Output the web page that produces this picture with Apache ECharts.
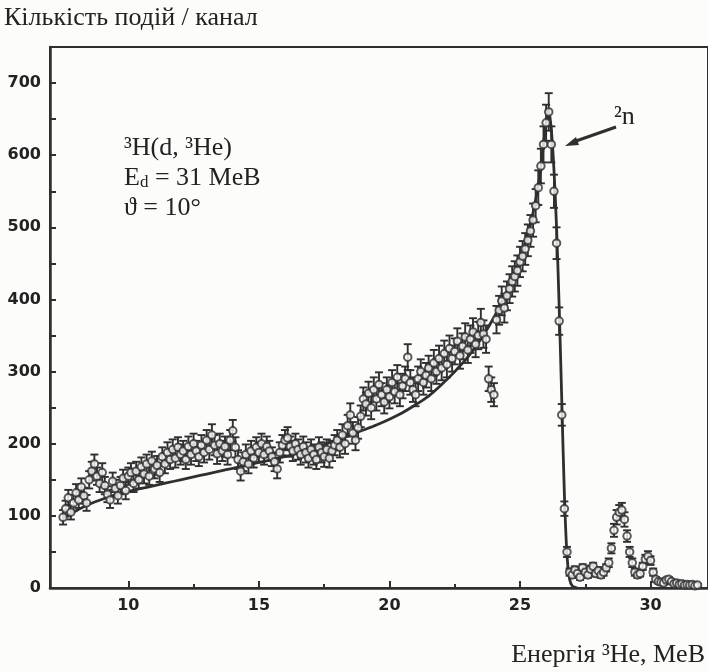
<!DOCTYPE html>
<html>
<head>
<meta charset="utf-8">
<script src="https://cdn.jsdelivr.net/npm/echarts@6/dist/echarts.min.js"></script>
<style>
html, body { margin: 0; padding: 0; background: #fcfcfb; }
#chart { width: 708px; height: 672px; }
</style>
</head>
<body>
<div id="chart"></div>
<script>
// measured spectrum, 3He energy (MeV) per channel
const energy = [
  7.5, 7.6, 7.7, 7.8, 7.9, 8.0, 8.1, 8.2, 8.3, 8.4,
  8.5, 8.6, 8.7, 8.8, 8.9, 9.0, 9.1, 9.2, 9.3, 9.4,
  9.5, 9.6, 9.7, 9.8, 9.9, 10.0, 10.1, 10.2, 10.3, 10.4,
  10.5, 10.6, 10.7, 10.8, 10.9, 11.0, 11.1, 11.2, 11.3, 11.4,
  11.5, 11.6, 11.7, 11.8, 11.9, 12.0, 12.1, 12.2, 12.3, 12.4,
  12.5, 12.6, 12.7, 12.8, 12.9, 13.0, 13.1, 13.2, 13.3, 13.4,
  13.5, 13.6, 13.7, 13.8, 13.9, 14.0, 14.1, 14.2, 14.3, 14.4,
  14.5, 14.6, 14.7, 14.8, 14.9, 15.0, 15.1, 15.2, 15.3, 15.4,
  15.5, 15.6, 15.7, 15.8, 15.9, 16.0, 16.1, 16.2, 16.3, 16.4,
  16.5, 16.6, 16.7, 16.8, 16.9, 17.0, 17.1, 17.2, 17.3, 17.4,
  17.5, 17.6, 17.7, 17.8, 17.9, 18.0, 18.1, 18.2, 18.3, 18.4,
  18.5, 18.6, 18.7, 18.8, 18.9, 19.0, 19.1, 19.2, 19.3, 19.4,
  19.5, 19.6, 19.7, 19.8, 19.9, 20.0, 20.1, 20.2, 20.3, 20.4,
  20.5, 20.6, 20.7, 20.8, 20.9, 21.0, 21.1, 21.2, 21.3, 21.4,
  21.5, 21.6, 21.7, 21.8, 21.9, 22.0, 22.1, 22.2, 22.3, 22.4,
  22.5, 22.6, 22.7, 22.8, 22.9, 23.0, 23.1, 23.2, 23.3, 23.4,
  23.5, 23.6, 23.7, 23.8, 23.9, 24.0, 24.1, 24.2, 24.3, 24.4,
  24.5, 24.6, 24.7, 24.8, 24.9, 25.0, 25.1, 25.2, 25.3, 25.4,
  25.5, 25.6, 25.7, 25.8, 25.9, 26.0, 26.1, 26.2, 26.3, 26.4,
  26.5, 26.6, 26.7, 26.8, 26.9, 27.0, 27.1, 27.2, 27.3, 27.4,
  27.5, 27.6, 27.7, 27.8, 27.9, 28.0, 28.1, 28.2, 28.3, 28.4,
  28.5, 28.6, 28.7, 28.8, 28.9, 29.0, 29.1, 29.2, 29.3, 29.4,
  29.5, 29.6, 29.7, 29.8, 29.9, 30.0, 30.1, 30.2, 30.3, 30.4,
  30.5, 30.6, 30.7, 30.8, 30.9, 31.0, 31.1, 31.2, 31.3, 31.4,
  31.5, 31.6, 31.7, 31.8
]
const counts = [
  98, 110, 125, 105, 118, 132, 122, 140, 128, 118,
  150, 162, 172, 155, 145, 160, 142, 130, 122, 148,
  138, 128, 142, 152, 135, 155, 160, 145, 162, 150,
  168, 158, 172, 155, 176, 165, 170, 160, 182, 172,
  188, 178, 192, 180, 195, 185, 190, 178, 196, 185,
  200, 190, 182, 198, 188, 205, 192, 212, 198, 186,
  200, 190, 196, 185, 205, 218, 195, 178, 162, 175,
  185, 172, 190, 180, 195, 188, 200, 185, 196, 190,
  182, 175, 165, 188, 198, 205, 208, 196, 190, 200,
  192, 185, 196, 188, 180, 192, 185, 178, 195, 188,
  182, 192, 180, 190, 198, 205, 195, 212, 200, 225,
  240, 215, 205, 222, 238, 262, 255, 270, 250, 275,
  262, 282, 268, 258, 275, 265, 285, 272, 292, 268,
  280, 290, 320, 285, 275, 268, 290, 300, 285, 295,
  305, 290, 312, 300, 318, 305, 325, 310, 332, 318,
  328, 342, 322, 335, 348, 330, 345, 355, 338, 350,
  368, 352, 345, 290, 275, 268, 372, 385, 398, 388,
  405, 415, 425, 432, 440, 452, 460, 470, 482, 495,
  510, 530, 555, 585, 615, 645, 660, 615, 550, 478,
  370, 240, 110, 50, 22, 18, 25, 20, 15, 28,
  22, 18, 26, 30, 20, 24, 18, 22, 28, 35,
  55, 80, 98, 105, 108, 95, 72, 50, 35, 22,
  18, 20, 30, 40, 44, 38, 22, 12, 9, 8,
  7, 11, 12, 9, 6, 7, 5, 6, 4, 5,
  4, 5, 3, 4
]
const errors = [
  10, 11, 11, 10, 11, 12, 11, 12, 11, 11,
  12, 13, 13, 12, 12, 13, 12, 11, 11, 12,
  12, 11, 12, 12, 12, 12, 13, 12, 13, 12,
  13, 13, 13, 12, 13, 13, 13, 13, 13, 13,
  14, 13, 14, 13, 14, 14, 14, 13, 14, 14,
  14, 14, 13, 14, 14, 14, 14, 15, 14, 14,
  14, 14, 14, 14, 14, 15, 14, 13, 13, 13,
  14, 13, 14, 13, 14, 14, 14, 14, 14, 14,
  13, 13, 13, 14, 14, 14, 15, 14, 14, 14,
  14, 14, 14, 14, 13, 14, 14, 13, 14, 14,
  14, 14, 13, 14, 14, 14, 14, 15, 14, 15,
  16, 15, 14, 15, 15, 16, 16, 16, 16, 17,
  16, 17, 16, 16, 17, 16, 17, 16, 17, 16,
  17, 17, 18, 17, 17, 16, 17, 17, 17, 17,
  17, 17, 18, 17, 18, 17, 18, 18, 18, 18,
  18, 18, 18, 18, 19, 18, 19, 19, 18, 19,
  19, 19, 19, 17, 17, 16, 19, 20, 20, 20,
  20, 20, 21, 21, 21, 21, 21, 22, 22, 22,
  23, 23, 24, 24, 25, 25, 26, 25, 23, 22,
  19, 15, 10, 7, 5, 4, 5, 4, 4, 5,
  5, 4, 5, 5, 4, 5, 4, 5, 5, 6,
  7, 9, 10, 10, 10, 10, 8, 7, 6, 5,
  4, 4, 5, 6, 7, 6, 5, 3, 3, 3,
  3, 3, 3, 3, 2, 3, 2, 2, 2, 2,
  2, 2, 2, 2
]

// calculated curve
const fitEnergy = [
  7.5, 8, 8.5, 9, 9.5, 10, 10.5, 11, 11.5, 12, 12.5, 13, 13.5, 14, 14.5, 15,
  15.5, 16, 16.5, 17, 17.5, 18, 18.5, 19, 19.5, 20, 20.5, 21, 21.5, 22, 22.5,
  23, 23.5, 24, 24.5, 25, 25.25, 25.5, 25.75, 26, 26.1, 26.2, 26.3, 26.4, 26.5,
  26.6, 26.7, 26.8, 26.9, 27.0, 27.2
]
const fitCounts = [
  97, 107, 116, 123, 129, 134, 138, 142, 146, 150, 154, 158, 162, 166, 170, 174,
  178, 182, 187, 193, 199, 205, 212, 219, 226, 234, 243, 254, 266, 282, 300,
  320, 345, 375, 412, 455, 485, 520, 570, 645, 662, 635, 580, 500, 390,
  260, 130, 45, 12, 3, 0
]

const xLabels = [10, 15, 20, 25, 30]
const xMajorTicks = [10, 15, 20, 25, 30]
const xMinorTicks = [12.5, 17.5, 22.5, 27.5]
const yLabels = [0, 100, 200, 300, 400, 500, 600, 700]
const yTicks = [50, 100, 150, 200, 250, 300, 350, 400, 450, 500, 550, 600, 650, 700]

const ink = '#2f2f2f'
const serif = '"Liberation Serif", "DejaVu Serif", serif'

var chart = echarts.init(document.getElementById('chart'))

var points = energy.map((e, i) => [e, counts[i]])
var bars = energy.map((e, i) => [e, Math.max(0, counts[i] - errors[i]), counts[i] + errors[i]])
var fit = fitEnergy.map((e, i) => [e, fitCounts[i]])

function renderErrorBar(params, api) {
  var lo = api.coord([api.value(0), api.value(1)])
  var hi = api.coord([api.value(0), api.value(2)])
  var w = 4
  var st = { stroke: ink, lineWidth: 1.9 }
  return {
    type: 'group',
    children: [
      { type: 'line', shape: { x1: lo[0], y1: lo[1], x2: hi[0], y2: hi[1] }, style: st },
      { type: 'line', shape: { x1: lo[0] - w, y1: lo[1], x2: lo[0] + w, y2: lo[1] }, style: st },
      { type: 'line', shape: { x1: hi[0] - w, y1: hi[1], x2: hi[0] + w, y2: hi[1] }, style: st }
    ]
  }
}

var labelFont = {
  fontFamily: 'DejaVu Sans',
  fontWeight: 'bold',
  fontSize: 16,
  color: '#222'
}

var option = {
  backgroundColor: '#fcfcfb',
  animation: false,
  grid: {
    left: 50, top: 47, right: -5, bottom: 84,
    show: true, borderColor: ink, borderWidth: 2
  },
  xAxis: [
    {
      type: 'value', min: 7, max: 32.2,
      axisLine: { lineStyle: { color: ink, width: 2.5 } },
      axisTick: { inside: true, length: 7, customValues: xMajorTicks, lineStyle: { color: ink, width: 2 } },
      axisLabel: Object.assign({ margin: 10, customValues: xLabels }, labelFont),
      splitLine: { show: false }
    },
    {
      type: 'value', min: 7, max: 32.2, position: 'bottom',
      axisLine: { show: false },
      axisTick: { inside: true, length: 4, customValues: xMinorTicks, lineStyle: { color: ink, width: 2 } },
      axisLabel: { show: false },
      splitLine: { show: false }
    }
  ],
  yAxis: {
    type: 'value', min: 0, max: 750,
    axisLine: { show: true, lineStyle: { color: ink, width: 2.5 } },
    axisTick: { show: true, inside: true, length: 6, customValues: yTicks, lineStyle: { color: ink, width: 2 } },
    axisLabel: Object.assign({ margin: 9, customValues: yLabels }, labelFont),
    splitLine: { show: false }
  },
  series: [
    {
      type: 'line',
      data: fit,
      smooth: 0.3,
      showSymbol: false,
      lineStyle: { color: ink, width: 2.8 },
      z: 3
    },
    {
      type: 'custom',
      data: bars,
      renderItem: renderErrorBar,
      encode: { x: 0, y: [1, 2] },
      clip: true,
      z: 2
    },
    {
      type: 'scatter',
      data: points,
      symbol: 'emptyCircle',
      symbolSize: 7.5,
      itemStyle: { color: ink, borderColor: ink, borderWidth: 2.2 },
      z: 4
    }
  ],
  graphic: [
    {
      type: 'text', left: 4, top: 5,
      style: { text: 'Кількість подій / канал', font: '26px ' + serif, fill: '#222' }
    },
    {
      type: 'text', right: 3, bottom: 4,
      style: { text: 'Енергія ³He, MeB', font: '26px ' + serif, fill: '#222' }
    },
    {
      type: 'text', left: 124, top: 135,
      style: { text: '³H(d, ³He)', font: '26px ' + serif, fill: '#222' }
    },
    {
      type: 'text', left: 124, top: 165,
      style: {
        text: 'E{sub|d} = 31 MeB',
        font: '26px ' + serif, fill: '#222',
        rich: { sub: { fontSize: 17, fontFamily: serif, verticalAlign: 'bottom', padding: [10, 0, 0, 0] } }
      }
    },
    {
      type: 'text', left: 124, top: 195,
      style: { text: 'ϑ = 10°', font: '26px ' + serif, fill: '#222' }
    },
    {
      type: 'text', left: 614, top: 104,
      style: { text: '²n', font: '26px ' + serif, fill: '#222' }
    },
    {
      type: 'line',
      shape: { x1: 616, y1: 127, x2: 576, y2: 141 },
      style: { stroke: ink, lineWidth: 3 }
    },
    {
      type: 'polygon',
      shape: { points: [[565, 146], [579, 145], [576, 137]] },
      style: { fill: ink }
    }
  ]
}

chart.setOption(option)
</script>
</body>
</html>
